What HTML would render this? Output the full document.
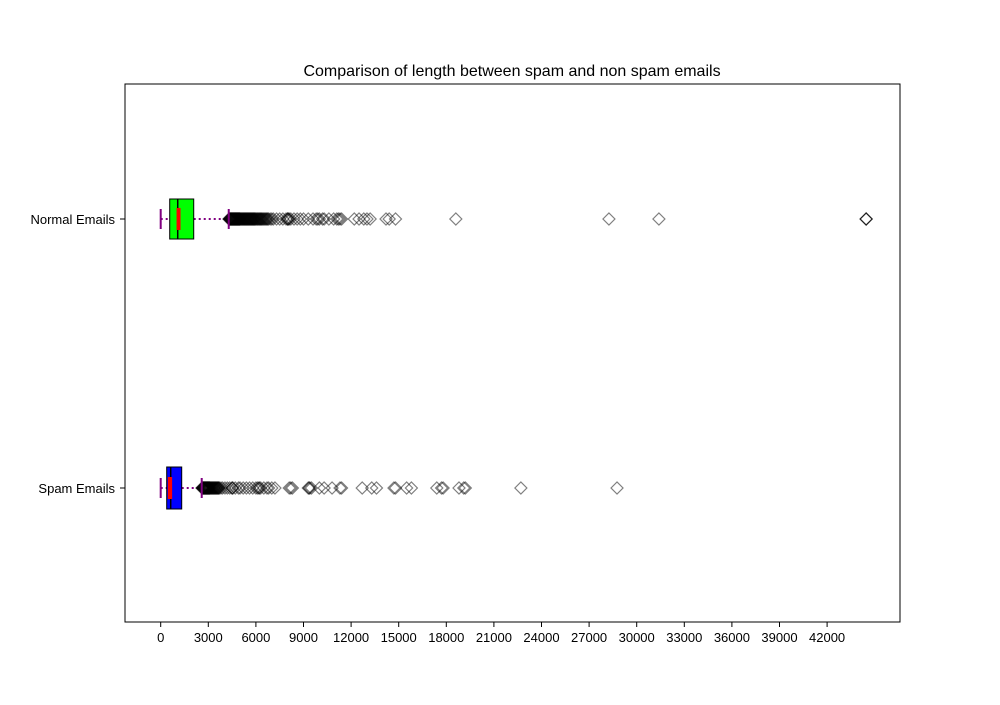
<!DOCTYPE html>
<html><head><meta charset="utf-8"><style>
body{margin:0;background:#fff}
svg text{font-family:"Liberation Sans","DejaVu Sans",sans-serif;fill:#000}
</style></head><body>
<svg id="chart" width="1000" height="700" xmlns="http://www.w3.org/2000/svg">
<rect width="1000" height="700" fill="#fff"/>
<text x="512" y="76" font-size="16" text-anchor="middle">Comparison of length between spam and non spam emails</text>
<g id="marks"></g>
<rect x="125" y="84" width="775" height="538" fill="none" stroke="#000" stroke-width="1"/>
<g id="axes"></g>
</svg>
<script>
const categories = ["Normal Emails", "Spam Emails"];
const q1 = [568, 378];
const medians = [1072, 630];
const q3 = [2081, 1324];
const whiskLow = [0, 0];
const whiskHigh = [4288, 2585];
const notchLow = [1000, 450];
const notchHigh = [1250, 720];
const xTicks = [0,3000,6000,9000,12000,15000,18000,21000,24000,27000,30000,33000,36000,39000,42000];
const normalOutliers = [4300,4320,4340,4360,4380,4400,4420,4440,4460,4480,4500,4520,4540,4560,4580,4600,4620,4640,4660,4680,4700,4720,4740,4760,4780,4800,4820,4840,4860,4880,4900,4920,4940,4960,4980,5000,5030,5060,5090,5120,5150,5180,5210,5240,5270,5300,5330,5360,5390,5420,5450,5480,5510,5540,5570,5600,5630,5660,5690,5720,5750,5780,5810,5840,5870,5900,5930,5960,6000,6040,6080,6120,6160,6200,6240,6280,6320,6360,6400,6450,6500,6550,6600,6650,6700,6750,6800,6900,7000,7100,7300,7500,7700,7900,8000,8000,8050,8100,8200,8400,8600,8800,9000,9300,9600,9800,9900,10000,10200,10300,10600,10900,11100,11200,11300,11400,12200,12500,12800,13000,13200,14200,14400,14800,18600,28250,31400,44460,44460,44460];
const spamOutliers = [2600,2620,2640,2660,2680,2700,2720,2740,2760,2780,2800,2820,2840,2860,2880,2900,2920,2940,2960,2980,3000,3020,3040,3060,3080,3100,3130,3160,3190,3220,3250,3280,3310,3340,3370,3400,3430,3460,3490,3520,3550,3580,3610,3640,3670,3700,3800,3900,4050,4200,4350,4500,4500,4550,4700,4900,5000,5200,5400,5600,5800,6000,6100,6200,6200,6300,6500,6700,6800,7000,7200,8100,8200,8300,9300,9350,9400,9500,10000,10300,10800,11300,11400,12700,13300,13600,14700,14800,15500,15800,17400,17700,17800,18800,19100,19200,22700,28760];
const outliers = [normalOutliers, spamOutliers];
const catY = [219, 488];

const NS = "http://www.w3.org/2000/svg";
function X(v){ return 160.7 + v/3000*47.6; }
function mk(tag, attrs, parent){ const e=document.createElementNS(NS,tag); for(const k in attrs) e.setAttribute(k,attrs[k]); parent.appendChild(e); return e; }
const marks=document.getElementById('marks'), axes=document.getElementById('axes');

xTicks.forEach(t=>{
  const l=mk('line',{x1:X(t),x2:X(t),y1:622,y2:627,stroke:'#000'},axes);
  
  
  const tx=mk('text',{x:X(t),y:642,'font-size':13,'text-anchor':'middle'},axes);
  tx.textContent=t;
  
  
});
categories.forEach((c,i)=>{
  const y=catY[i];
  const l=mk('line',{x1:120,x2:125,y1:y,y2:y,stroke:'#000'},axes);
  
  
  const tx=mk('text',{x:115,y:y+5,'font-size':13,'text-anchor':'end'},axes);
  tx.textContent=c;
  
  

  const hh = i===0?20:21;
  const g=mk('g',{},marks);
  
  
  const w1=mk('line',{x1:X(whiskLow[i]),x2:X(q1[i]),y1:y,y2:y,stroke:'purple','stroke-width':2,'stroke-dasharray':'2,3'},g);
  
  
  const w2=mk('line',{x1:X(q3[i]),x2:X(whiskHigh[i]),y1:y,y2:y,stroke:'purple','stroke-width':2,'stroke-dasharray':'2,3'},g);
  
  
  outliers[i].forEach(v=>{
    const xx=X(v);
    const p=mk('path',{d:`M${xx-6},${y} L${xx},${y-6} L${xx+6},${y} L${xx},${y+6} Z`,fill:'none',stroke:'rgba(0,0,0,0.5)','stroke-width':1.2},g);
    
    
  });
  const b=mk('rect',{x:X(q1[i]),y:y-hh,width:X(q3[i])-X(q1[i]),height:2*hh,fill:i===0?'#00ff00':'#0000ff',stroke:'#000','stroke-width':1},g);
  
  
  const m=mk('line',{x1:X(medians[i]),x2:X(medians[i]),y1:y-hh,y2:y+hh,stroke:'#000','stroke-width':1.5},g);
  
  
  const n=mk('rect',{x:X(notchLow[i]),y:y-11,width:X(notchHigh[i])-X(notchLow[i]),height:22,fill:'red'},g);
  
  
  [whiskLow[i],whiskHigh[i]].forEach(v=>{
    const cp=mk('line',{x1:X(v),x2:X(v),y1:y-10,y2:y+10,stroke:'purple','stroke-width':2},g);
    
    
  });
});
</script>
</body></html>
